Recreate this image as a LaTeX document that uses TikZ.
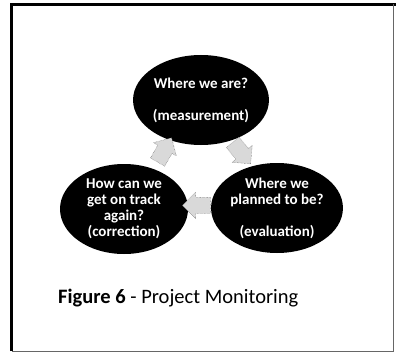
\documentclass[tikz,border=0pt]{standalone}
\usepackage{fontspec}
\setmainfont{Carlito}
\usepackage{tikz}
\usetikzlibrary{shapes,arrows,positioning,calc}
\tikzstyle{stage} = [ellipse, fill=black, text=white, align=center, font=\bfseries\fontsize{15}{16}\selectfont, minimum width=128pt, minimum height=90pt, inner sep=0pt]
\tikzstyle{flow} = [single arrow, draw=black!70, densely dotted, fill=gray!30, minimum height=28pt, inner xsep=0pt, inner ysep=8pt, single arrow head extend=5pt]

\begin{document}
\begin{tikzpicture}[x=1pt, y=-1pt]

% page and frame
\useasboundingbox (0,0) rectangle (396,353);
\fill[white] (0,0) rectangle (396,353);
\draw[line width=3pt] (11.5,351) -- (11.5,4.5) -- (396,4.5);
\draw[line width=1pt, black!60] (393,4.5) -- (393,351) -- (11.5,351);

% stages
\node[stage] (now) at (201,100) {Where we are?\\[16pt](measurement)};
\node[stage] (plan) at (277,208) {Where we\\planned to be?\\[16pt](evaluation)};
\node[stage] (fix) at (124,209) {How can we\\get on track\\again?\\(correction)};

% arrows between stages
\node[flow, rotate=60] (a1) at ($(fix)!0.5!(now)+(0,-1)$) {};
\node[flow, rotate=-50] (a2) at ($(now)!0.5!(plan)+(0,-4)$) {};
\node[flow, rotate=180] (a3) at ($(plan)!0.5!(fix)+(0,-3)$) {};

% caption
\node[anchor=base west, inner sep=0pt, font=\fontsize{20.5}{24}\selectfont] (cap) at (58,303) {\textbf{Figure 6} - Project Monitoring};

\end{tikzpicture}
\end{document}
